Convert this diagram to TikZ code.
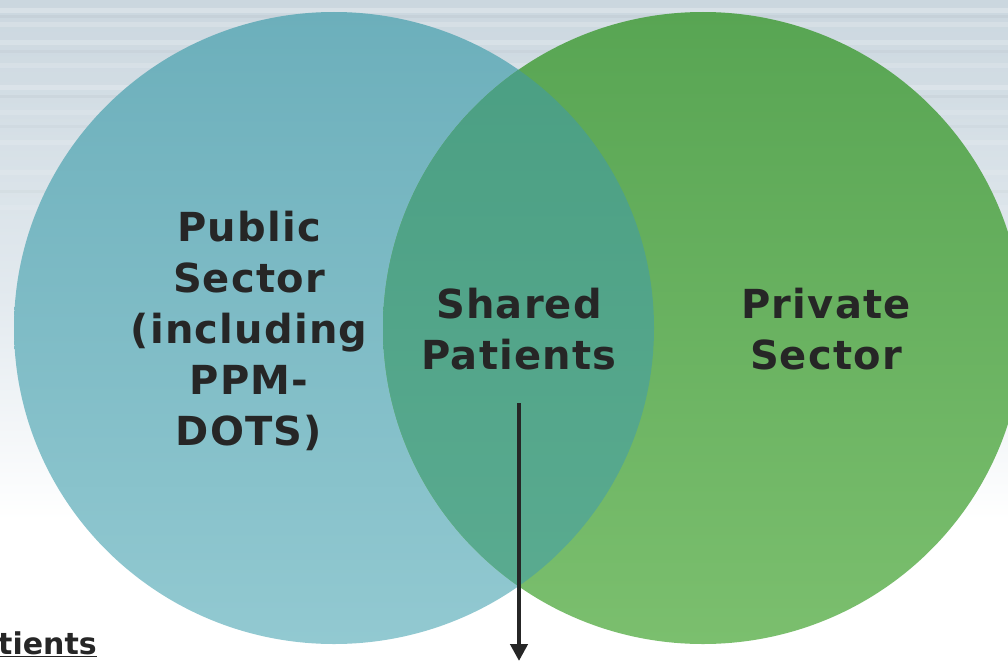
\documentclass[tikz,border=0pt]{standalone}
\usepackage{fontspec}
\setmainfont{DejaVu Sans}
\newfontfamily\lblfont[LetterSpace=3]{DejaVu Sans}
\definecolor{txt}{HTML}{262626}
\definecolor{bgtop}{HTML}{CBD7DF}
\definecolor{bgmid}{HTML}{E3EAEF}
\definecolor{bluetop}{HTML}{6CAFBB}
\definecolor{bluebot}{HTML}{92C9D1}
\definecolor{greentop}{HTML}{58A553}
\definecolor{greenbot}{HTML}{7BBF6E}
\definecolor{ovtop}{HTML}{4A9E82}
\definecolor{ovbot}{HTML}{5BAC91}
\usetikzlibrary{arrows.meta}
\tikzset{
  lbl/.style={font=\lblfont\fontsize{40}{50.8}\selectfont\bfseries, text=txt, align=center, inner sep=0pt, anchor=base},
  arr/.style={-{Triangle[length=17pt,width=17pt]}, line width=4.5pt, draw=txt},
}
\begin{document}
\begin{tikzpicture}[x=1pt,y=-1pt]
\useasboundingbox (0,0) rectangle (1008,661);
% background
\fill[white] (0,0) rectangle (1008,661);
\shade[top color=bgtop, bottom color=bgmid] (0,0) rectangle (1008,300);
\shade[top color=bgmid, bottom color=white] (0,300) rectangle (1008,520);
\foreach \yy/\op in {8/0.25,22/0.18,40/0.2,63/0.15,85/0.2,110/0.12,140/0.15,170/0.12,205/0.1}{
  \fill[white, opacity=\op] (0,\yy) rectangle (1008,\yy+5);
}
\foreach \yy/\op in {15/0.07,50/0.06,95/0.07,125/0.05,190/0.05}{
  \fill[black!40!bgtop, opacity=\op] (0,\yy) rectangle (1008,\yy+3);
}
% circles
\shade[top color=bluetop, bottom color=bluebot] (334,328) ellipse [x radius=320pt, y radius=316pt];
\shade[top color=greentop, bottom color=greenbot] (703,328) ellipse [x radius=320pt, y radius=316pt];
\begin{scope}
  \clip (334,328) ellipse [x radius=320pt, y radius=316pt];
  \shade[top color=ovtop, bottom color=ovbot] (703,328) ellipse [x radius=320pt, y radius=316pt];
\end{scope}
% labels
\node[lbl] (public) at (249,445) {Public\\Sector\\(including\\PPM-\\DOTS)};
\node[lbl] (shared) at (519,369) {Shared\\Patients};
\node[lbl] (private) at (826,369) {Private\\Sector};
\node[font=\fontsize{30}{34}\selectfont\bfseries, text=txt, anchor=base west, inner sep=0pt] (tients) at (-2,654) {\underline{tients}};
% arrow
\coordinate (astart) at (519,403);
\coordinate (aend) at (519,661);
\draw[arr] (astart) -- (aend);
\end{tikzpicture}
\end{document}
